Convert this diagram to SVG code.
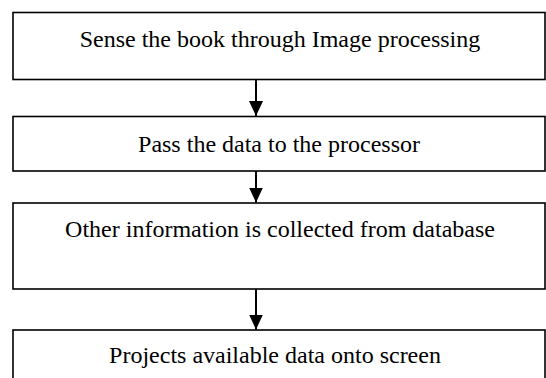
<svg xmlns="http://www.w3.org/2000/svg" width="546" height="378" viewBox="0 0 546 378">
<style>
.box{fill:#fff;stroke:#000;stroke-width:1.6}
.lbl{font-family:"Liberation Serif","Times New Roman",serif;font-size:24px;fill:#000;text-anchor:middle}
.conn{stroke:#000;stroke-width:2;fill:none}
</style>
<defs>
<marker id="ah" markerUnits="userSpaceOnUse" markerWidth="16" markerHeight="16" refX="15" refY="7" orient="auto">
<path d="M0,0 L15,7 L0,14 Z" fill="#000"/>
</marker>
</defs>
<rect width="546" height="378" fill="#fff"/>
<g id="n1"><rect class="box" x="13" y="12.5" width="532" height="67"/><text class="lbl" x="280" y="47">Sense the book through Image processing</text></g>
<g id="n2"><rect class="box" x="13" y="116.5" width="532" height="54.5"/><text class="lbl" x="279" y="152">Pass the data to the processor</text></g>
<g id="n3"><rect class="box" x="13" y="203" width="532" height="86"/><text class="lbl" x="280" y="237">Other information is collected from database</text></g>
<g id="n4"><rect class="box" x="13" y="330" width="532" height="60"/><text class="lbl" x="275" y="363">Projects available data onto screen</text></g>
<g id="connectors">
<line class="conn" x1="256" y1="79.5" x2="256" y2="116" marker-end="url(#ah)"/>
<line class="conn" x1="256" y1="171" x2="256" y2="202.5" marker-end="url(#ah)"/>
<line class="conn" x1="256" y1="289" x2="256" y2="329.5" marker-end="url(#ah)"/>
</g>
</svg>
